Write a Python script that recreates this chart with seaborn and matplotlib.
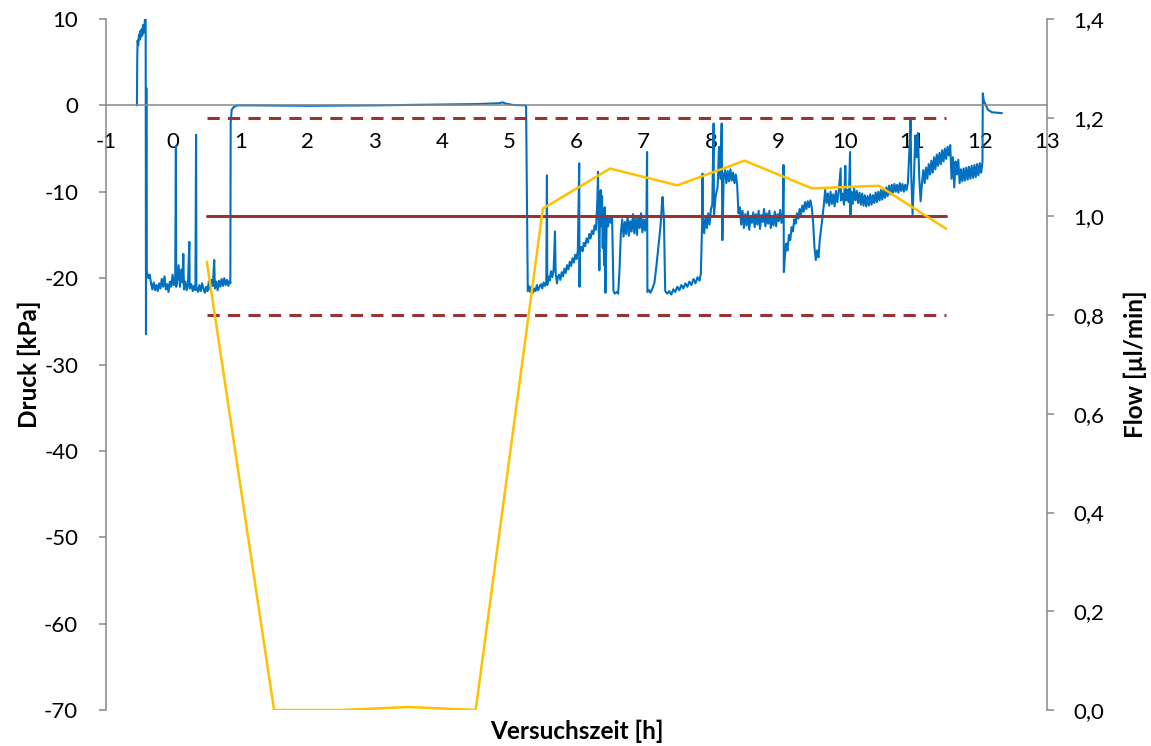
import matplotlib
matplotlib.use("Agg")
import matplotlib.pyplot as plt
import seaborn as sns
import pandas as pd
from matplotlib.ticker import FuncFormatter

sns.set_style("white")
plt.rcParams["font.family"] = ["Lato", "DejaVu Sans"]
plt.rcParams["axes.unicode_minus"] = False

# Pressure log: time [h] and pressure [kPa]
zeit = [
    -0.54, -0.535, -0.53, -0.52, -0.51, -0.50, -0.49, -0.48, -0.47, -0.46, -0.45, -0.44, -0.43, -0.42, -0.41,
    -0.405, -0.40, -0.395,
    -0.39, -0.37, -0.35, -0.33, -0.31, -0.29, -0.27, -0.25, -0.23, -0.21, -0.19, -0.17, -0.15, -0.13, -0.11,
    -0.09, -0.07, -0.05, -0.03, -0.01, 0.01, 0.03, 0.04, 0.045, 0.06, 0.08, 0.10, 0.12, 0.14, 0.15, 0.16,
    0.18, 0.20, 0.22, 0.24, 0.245, 0.27, 0.29, 0.31, 0.33, 0.34, 0.345, 0.37, 0.39, 0.41, 0.43, 0.45, 0.47,
    0.49, 0.51, 0.53, 0.55, 0.57, 0.59, 0.61, 0.62, 0.64, 0.66, 0.68, 0.70, 0.72, 0.74, 0.76, 0.78, 0.80,
    0.82, 0.84, 0.85, 0.855, 0.87, 0.90, 0.95,
    1.2, 2.0, 3.0, 3.5, 4.1, 4.5, 4.85, 4.9, 4.95, 5.05, 5.25, 5.275,
    5.29, 5.31, 5.33, 5.35, 5.37, 5.39, 5.41, 5.43, 5.45, 5.47, 5.49, 5.51, 5.53, 5.55, 5.56, 5.565, 5.58,
    5.60, 5.62, 5.64, 5.66, 5.68, 5.69, 5.71, 5.72, 5.74, 5.76, 5.78, 5.80, 5.82, 5.84, 5.86, 5.88, 5.90,
    5.92, 5.94, 5.96, 5.98, 6.00, 6.02, 6.04, 6.045, 6.05, 6.07, 6.09, 6.11, 6.13, 6.15, 6.17, 6.19, 6.21,
    6.23, 6.25, 6.27, 6.29, 6.31, 6.32, 6.33, 6.34, 6.35, 6.36, 6.37, 6.38, 6.39, 6.40, 6.41, 6.42, 6.43,
    6.45, 6.47, 6.49, 6.51, 6.53, 6.55, 6.57, 6.60, 6.62, 6.64, 6.66, 6.68, 6.70, 6.72, 6.74, 6.76, 6.78,
    6.80, 6.82, 6.84, 6.86, 6.88, 6.90, 6.92, 6.94, 6.96, 6.98, 7.00, 7.02, 7.04, 7.05, 7.055, 7.08, 7.10,
    7.13, 7.16, 7.19, 7.22, 7.25, 7.27, 7.28, 7.30, 7.32, 7.35, 7.38, 7.41, 7.44, 7.47, 7.50, 7.53, 7.56,
    7.59, 7.62, 7.65, 7.68, 7.71, 7.74, 7.77, 7.80, 7.83, 7.85, 7.87, 7.875, 7.88, 7.90, 7.92, 7.94, 7.96,
    7.98, 8.00, 8.02, 8.04, 8.045, 8.07, 8.10, 8.12, 8.14, 8.16, 8.17, 8.19, 8.21, 8.23, 8.25, 8.27, 8.29,
    8.31, 8.33, 8.35, 8.37, 8.39, 8.41, 8.43, 8.45, 8.47, 8.49, 8.51, 8.53, 8.55, 8.57, 8.59, 8.61, 8.63,
    8.65, 8.67, 8.69, 8.71, 8.73, 8.75, 8.77, 8.79, 8.81, 8.83, 8.85, 8.87, 8.89, 8.91, 8.93, 8.95, 8.97,
    8.99, 9.01, 9.03, 9.05, 9.07, 9.08, 9.085, 9.10, 9.12, 9.14, 9.16, 9.18, 9.20, 9.22, 9.24, 9.26, 9.28,
    9.30, 9.32, 9.34, 9.36, 9.38, 9.40, 9.42, 9.44, 9.46, 9.48, 9.50, 9.52, 9.54, 9.56, 9.58, 9.60, 9.62,
    9.65, 9.68, 9.70, 9.72, 9.74, 9.76, 9.78, 9.80, 9.82, 9.84, 9.86, 9.88, 9.90, 9.93, 9.935, 9.96, 9.98,
    10.00, 10.01, 10.03, 10.05, 10.07, 10.075, 10.09, 10.11, 10.13, 10.15, 10.17, 10.19, 10.21, 10.23,
    10.25, 10.27, 10.29, 10.31, 10.33, 10.35, 10.37, 10.39, 10.41, 10.43, 10.45, 10.47, 10.49, 10.51,
    10.53, 10.55, 10.57, 10.59, 10.61, 10.63, 10.65, 10.67, 10.69, 10.71, 10.73, 10.75, 10.77, 10.79,
    10.81, 10.83, 10.85, 10.87, 10.89, 10.91, 10.93, 10.96, 10.97, 10.98, 11.00, 11.02, 11.04, 11.06,
    11.08, 11.10, 11.12, 11.14, 11.16, 11.18, 11.20, 11.22, 11.24, 11.26, 11.28, 11.30, 11.32, 11.34,
    11.36, 11.38, 11.40, 11.42, 11.44, 11.46, 11.48, 11.50, 11.52, 11.54, 11.56, 11.58, 11.60, 11.62,
    11.64, 11.66, 11.68, 11.70, 11.72, 11.74, 11.76, 11.78, 11.80, 11.82, 11.84, 11.86, 11.88, 11.90,
    11.92, 11.94, 11.96, 11.98, 12.00, 12.02, 12.04, 12.045, 12.06, 12.08, 12.12, 12.18, 12.33,
]
druck = [
    0.0, 5.5, 7.5, 7.0, 8.2, 7.6, 8.6, 7.9, 8.8, 8.1, 9.3, 8.4, 9.0, 10.0, 10.0,
    -26.5, 2.0, -19.5,
    -19.3, -20.0, -19.6, -20.6, -21.3, -20.5, -21.4, -20.8, -21.5, -20.6, -21.2, -20.1, -21.0, -19.8, -21.3,
    -20.7, -21.6, -20.4, -21.0, -19.6, -20.8, -19.8, -4.7, -21.0, -20.2, -18.5, -21.0, -19.0, -20.5, -17.2, -21.3,
    -20.4, -21.4, -20.6, -15.8, -21.2, -20.7, -21.5, -20.9, -21.4, -3.4, -21.0, -21.6, -20.8, -21.5, -20.6, -21.2, -21.7,
    -21.0, -21.5, -20.4, -21.3, -20.2, -20.9, -17.9, -21.2, -20.4, -21.4, -20.3, -21.0, -20.1, -20.9, -20.0, -20.8, -20.2,
    -20.9, -20.3, -20.6, -2.0, -0.5, -0.2, 0.0,
    0.0, -0.05, 0.0, 0.05, 0.1, 0.15, 0.25, 0.35, 0.2, 0.05, 0.0, -21.5,
    -20.9, -21.6, -21.0, -21.7, -21.2, -21.5, -20.8, -21.4, -21.0, -20.7, -21.2, -20.5, -20.9, -20.4, -8.1, -20.8, -19.8,
    -20.3, -19.2, -19.9, -19.0, -14.6, -19.5, -20.6, -20.0, -19.6, -20.2, -19.3, -19.8, -18.9, -19.4, -18.5, -19.0, -18.1,
    -18.6, -17.7, -18.2, -17.3, -17.8, -16.8, -6.7, -21.0, -17.0, -16.4, -16.9, -15.9, -16.3, -15.4, -15.9, -14.9, -15.4,
    -14.5, -14.9, -13.9, -14.4, -11.0, -7.7, -13.0, -19.1, -11.5, -9.8, -14.0, -10.5, -16.5, -12.0, -18.5, -11.8, -21.7,
    -13.0, -14.0, -12.8, -13.6, -13.0, -21.5, -21.8, -21.6, -21.8, -19.0, -14.8, -13.2, -15.2, -13.5, -14.9, -12.8, -15.1,
    -13.4, -14.6, -12.6, -14.8, -13.0, -15.0, -12.8, -14.2, -12.5, -14.7, -13.2, -14.5, -13.0, -5.4, -21.6, -21.4, -21.7,
    -21.2, -20.5, -18.5, -16.2, -14.0, -11.5, -10.6, -13.0, -21.5, -21.8, -21.5, -21.9, -21.3, -21.6, -21.0, -21.4, -20.8,
    -21.2, -20.6, -21.0, -20.4, -20.8, -20.1, -20.6, -19.9, -20.3, -19.5, -13.3, -7.9, -13.0, -14.8, -12.8, -14.2, -12.5,
    -13.8, -12.0, -11.5, -2.1, -12.8, -10.5, -9.4, -4.8, -8.5, -2.1, -15.6, -8.2, -7.5, -9.0, -7.6, -8.8, -7.4,
    -8.7, -7.8, -9.0, -8.0, -9.2, -12.5, -11.8, -13.8, -12.2, -14.2, -12.6, -13.9, -12.3, -14.4, -12.8, -13.6, -12.4,
    -14.1, -12.6, -13.8, -12.2, -14.3, -12.7, -13.5, -12.0, -14.0, -12.5, -13.7, -12.2, -14.2, -12.8, -13.9, -12.3, -14.0,
    -12.6, -13.4, -12.1, -13.6, -12.4, -6.9, -19.3, -17.5, -16.0, -16.8, -15.0, -15.6, -14.1, -14.6, -13.2, -13.7, -12.5,
    -13.1, -12.0, -12.6, -11.6, -12.3, -11.2, -12.0, -11.1, -11.8, -11.0, -11.8, -13.5, -16.4, -17.9, -16.8, -17.6, -15.5,
    -13.6, -11.5, -9.8, -11.3, -10.2, -11.6, -10.0, -11.4, -10.3, -11.7, -9.9, -11.2, -10.1, -7.3, -11.0, -10.2, -11.5,
    -7.0, -11.0, -9.8, -11.2, -5.4, -12.7, -10.0, -11.4, -9.6, -11.0, -9.9, -11.3, -10.1, -11.5,
    -10.2, -11.6, -10.4, -11.7, -10.5, -11.6, -10.3, -11.5, -10.4, -11.3, -10.1, -11.2, -10.0, -11.0,
    -9.8, -10.9, -9.7, -10.7, -9.5, -10.5, -9.3, -10.3, -9.2, -10.1, -9.1, -10.0, -9.2, -10.1,
    -9.0, -9.9, -9.1, -10.0, -9.2, -9.8, -9.0, -4.0, -1.7, -8.0, -12.6, -8.5, -3.5, -6.0,
    -3.2, -8.5, -11.1, -9.0, -7.5, -9.0, -7.2, -8.5, -6.8, -8.0, -6.4, -7.8, -6.0, -7.4,
    -5.7, -7.0, -5.5, -6.8, -5.2, -6.5, -5.0, -6.2, -4.8, -5.8, -4.6, -8.5, -6.0, -9.5,
    -6.5, -8.0, -6.3, -9.0, -7.4, -8.8, -7.3, -8.7, -7.2, -8.6, -7.1, -8.5, -7.0, -8.4,
    -6.9, -8.3, -6.8, -8.1, -6.7, -7.8, -6.5, 1.4, 0.5, 0.2, -0.5, -0.8, -0.9,
]

# Flow measurements: time [h] and flow [µl/min]
zeit_flow = [0.5, 1.5, 2.5, 3.5, 4.5, 5.5, 6.5, 7.5, 8.5, 9.5, 10.5, 11.5]
flow = [0.908, 0.0, 0.0, 0.006, 0.0, 1.016, 1.097, 1.063, 1.113, 1.057, 1.062, 0.975]

# Target flow with tolerance band
ref_zeit = [0.5, 11.5]
soll = [1.0, 1.0]
grenze_oben = [1.2, 1.2]
grenze_unten = [0.8, 0.8]

x_ticks = list(range(-1, 14))
druck_ticks = list(range(-70, 11, 10))
flow_ticks = [0.0, 0.2, 0.4, 0.6, 0.8, 1.0, 1.2, 1.4]

df_druck = pd.DataFrame({"Zeit": zeit, "Druck": druck})
df_flow = pd.DataFrame({"Zeit": zeit_flow, "Flow": flow})
df_ref = pd.DataFrame({"Zeit": ref_zeit * 3,
                       "Wert": soll + grenze_oben + grenze_unten,
                       "Linie": ["soll"] * 2 + ["oben"] * 2 + ["unten"] * 2})

W, H = 1151, 746
fig = plt.figure(figsize=(W / 100, H / 100), dpi=100)
ax = fig.add_axes([106 / W, 1 - 710 / H, (1047 - 106) / W, (710 - 19) / H])
ax2 = ax.twinx()

grau = "#878787"
blau = "#0070C0"
gelb = "#FFC000"
rot = "#963634"

sns.lineplot(data=df_druck, x="Zeit", y="Druck", ax=ax, color=blau, lw=1.5,
             estimator=None, sort=False)

for name, ls in [("oben", (0, (4, 2.7))), ("unten", (0, (4, 2.7))), ("soll", "-")]:
    sub = df_ref[df_ref["Linie"] == name]
    sns.lineplot(data=sub, x="Zeit", y="Wert", ax=ax2, color=rot, lw=2.2,
                 linestyle=ls, estimator=None, sort=False)
sns.lineplot(data=df_flow, x="Zeit", y="Flow", ax=ax2, color=gelb, lw=1.8,
             estimator=None, sort=False)

ax.set_xlim(-1, 13)
ax.set_ylim(-70, 10)
ax2.set_ylim(0, 1.4)
ax.set_xticks(x_ticks)
ax.set_yticks(druck_ticks)
ax2.set_yticks(flow_ticks)
ax2.yaxis.set_major_formatter(FuncFormatter(lambda v, p: f"{v:.1f}".replace(".", ",")))

for s in ["top", "right"]:
    ax.spines[s].set_visible(False)
for s in ["top", "left", "bottom"]:
    ax2.spines[s].set_visible(False)
ax.spines["bottom"].set_position(("data", 0))
for sp in [ax.spines["left"], ax.spines["bottom"], ax2.spines["right"]]:
    sp.set_color(grau)
    sp.set_linewidth(1.1)

tick_fs = 16
ax.tick_params(axis="x", direction="out", length=5, width=1.1, color=grau,
               labelsize=tick_fs, pad=14.5, labelcolor="black")
ax.tick_params(axis="y", direction="out", length=5, width=1.1, color=grau,
               labelsize=tick_fs, pad=15, labelcolor="black")
ax2.tick_params(axis="y", direction="out", length=5, width=1.1, color=grau,
                labelsize=tick_fs, pad=14, labelcolor="black")

label_fs = 17.5
ax.set_xlabel("Versuchszeit [h]", fontsize=label_fs, fontweight="bold", color="black")
ax.set_ylabel("Druck [kPa]", fontsize=label_fs, fontweight="bold", color="black")
ax2.set_ylabel("Flow [µl/min]", fontsize=label_fs, fontweight="bold", color="black")
ax.xaxis.set_label_coords(0.5, -0.0305)
ax.xaxis.label.set_va("center")
ax.yaxis.set_label_coords(-(106 - 29) / 941, 0.5)
ax.yaxis.label.set_va("center")
ax2.yaxis.set_label_coords(1 + (1135 - 1047) / 941, 0.5)
ax2.yaxis.label.set_va("center")

ax.grid(False)
ax2.grid(False)

fig.savefig("out.png", dpi=100)
